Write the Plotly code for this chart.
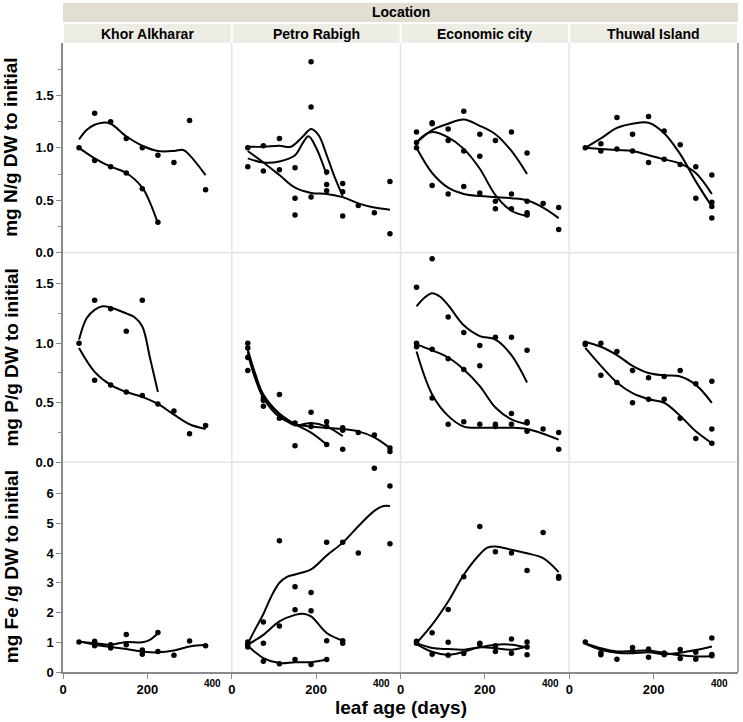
import plotly.graph_objects as go
from plotly.subplots import make_subplots

LOCATIONS = ["Khor Alkharar", "Petro Rabigh", "Economic city", "Thuwal Island"]
Y_TITLES = ["mg N/g DW to initial", "mg P/g DW to initial", "mg Fe /g DW to initial"]
AGES = [38, 75, 113, 150, 188, 225, 263, 300, 338, 375]

# measured values, one list of replicates per leaf age (AGES)
KA_N = [[1.00], [1.33, 0.88], [1.25, 0.82], [1.09, 0.76], [1.00, 0.61], [0.93, 0.29], [0.86], [1.26], [0.60]]
PR_N = [[1.00, 0.82], [1.02, 0.78], [1.09, 0.79], [0.81, 0.52, 0.36], [1.82, 1.39, 0.53],
        [0.77, 0.65, 0.59], [0.66, 0.58, 0.35], [0.45], [0.38], [0.68, 0.18]]
EC_N = [[1.15, 1.05, 1.00], [1.24, 1.23, 0.64], [1.18, 1.07, 0.56], [1.35, 0.97, 0.63], [1.13, 0.92, 0.57],
        [1.07, 0.49, 0.42], [1.15, 0.56, 0.42], [0.95, 0.49, 0.38, 0.36], [0.47], [0.43, 0.22]]
TI_N = [[1.00], [1.04, 0.97], [1.29, 0.99], [1.13, 0.97], [1.30, 0.86], [1.16, 0.89], [1.03, 0.84],
        [0.82, 0.52], [0.74, 0.48, 0.44, 0.33]]

KA_P = [[1.00], [1.36, 0.69], [1.29, 0.65], [1.10, 0.59], [1.36, 0.56], [0.49], [0.43], [0.24], [0.31]]
PR_P = [[1.00, 0.96, 0.88, 0.77], [0.54, 0.52, 0.47], [0.57, 0.37], [0.33, 0.14], [0.42, 0.30],
        [0.34, 0.30, 0.15], [0.29, 0.27, 0.11], [0.25], [0.23], [0.12, 0.09]]
EC_P = [[1.47, 1.00, 0.97], [1.71, 0.95, 0.54], [1.22, 0.87, 0.32], [1.09, 0.78, 0.34], [0.98, 0.81, 0.32],
        [1.05, 0.32, 0.30], [1.05, 0.41, 0.32], [0.94, 0.34, 0.33, 0.26], [0.28], [0.25, 0.11]]
TI_P = [[1.00, 0.99], [1.00, 0.73], [0.93, 0.67], [0.77, 0.50], [0.71, 0.53], [0.72, 0.53], [0.77, 0.37],
        [0.66, 0.20], [0.68, 0.28, 0.16]]

KA_FE = [[1.01], [1.03, 0.88], [0.92, 0.81], [1.26, 0.92], [0.74, 0.60], [1.33, 0.69], [0.56], [1.04], [0.88]]
PR_FE = [[1.01, 0.92, 0.84], [1.68, 0.97, 0.36], [4.41, 1.55, 0.28], [2.87, 2.09, 0.42], [2.67, 2.06, 0.25],
         [4.36, 1.05, 0.42], [4.36, 1.05, 0.97], [4.00], [6.85], [6.25, 4.31]]
EC_FE = [[1.03, 0.97], [1.32, 0.60], [2.10, 1.00, 0.56], [3.20, 0.62], [4.89, 0.97, 0.94], [4.04, 0.88, 0.69],
         [4.00, 1.11, 0.63], [3.41, 1.01, 0.84, 0.58], [4.69], [3.21, 3.15]]
TI_FE = [[1.01], [0.58, 0.65], [0.43], [0.82, 0.69], [0.77, 0.50], [0.64, 0.58], [0.76, 0.45], [0.66, 0.43],
         [1.14, 0.59, 0.55]]

# smoothing curves as (day, value)
KA_N_FIT = [
    [(38, 1.08), (56, 1.17), (75, 1.22), (94, 1.24), (113, 1.23), (150, 1.11), (188, 1.02), (225, 0.97),
     (263, 0.97), (285, 0.98), (300, 0.93), (338, 0.74)],
    [(38, 1.00), (75, 0.90), (113, 0.82), (150, 0.76), (188, 0.62), (206, 0.48), (225, 0.28)],
]
PR_N_FIT = [
    [(38, 0.90), (75, 0.86), (113, 0.87), (150, 0.93), (169, 1.05), (182, 1.11), (200, 1.00), (225, 0.74)],
    [(38, 1.01), (75, 1.01), (113, 1.02), (140, 1.01), (169, 1.11), (188, 1.18), (206, 1.12), (225, 0.93),
     (244, 0.72), (263, 0.54)],
    [(38, 0.97), (75, 0.86), (113, 0.74), (150, 0.62), (188, 0.57), (225, 0.56), (263, 0.53), (300, 0.47),
     (338, 0.43), (375, 0.41)],
]
EC_N_FIT = [
    [(38, 1.05), (75, 1.17), (113, 1.23), (150, 1.27), (188, 1.21), (225, 1.13), (263, 0.97), (300, 0.75)],
    [(38, 1.05), (56, 1.12), (75, 1.15), (113, 1.10), (150, 0.99), (188, 0.80), (225, 0.55), (263, 0.40),
     (300, 0.35)],
    [(38, 1.00), (75, 0.76), (113, 0.62), (150, 0.56), (188, 0.54), (225, 0.53), (263, 0.52), (300, 0.50),
     (338, 0.43), (375, 0.33)],
]
TI_N_FIT = [
    [(38, 1.00), (75, 1.09), (113, 1.19), (150, 1.23), (188, 1.24), (225, 1.14), (263, 0.94), (300, 0.68),
     (338, 0.44)],
    [(38, 1.00), (75, 0.99), (113, 0.98), (150, 0.97), (188, 0.93), (225, 0.89), (263, 0.85), (300, 0.76),
     (338, 0.56)],
]

KA_P_FIT = [
    [(38, 1.03), (56, 1.21), (75, 1.28), (94, 1.31), (113, 1.30), (150, 1.25), (169, 1.22), (188, 1.14),
     (206, 0.88), (225, 0.59)],
    [(38, 0.96), (75, 0.76), (113, 0.65), (150, 0.59), (188, 0.55), (225, 0.49), (263, 0.40), (300, 0.32),
     (338, 0.28)],
]
PR_P_FIT = [
    [(38, 0.95), (56, 0.74), (75, 0.57), (113, 0.41), (150, 0.32), (188, 0.25), (225, 0.15)],
    [(38, 0.93), (56, 0.72), (75, 0.56), (113, 0.40), (150, 0.31), (169, 0.32), (188, 0.33), (225, 0.30),
     (263, 0.22)],
    [(38, 0.91), (56, 0.70), (75, 0.54), (113, 0.38), (150, 0.32), (188, 0.30), (225, 0.29), (263, 0.28),
     (300, 0.26), (338, 0.21), (375, 0.12)],
]
EC_P_FIT = [
    [(38, 1.31), (56, 1.38), (75, 1.42), (94, 1.39), (113, 1.32), (150, 1.15), (188, 1.06), (225, 1.03),
     (263, 0.90), (300, 0.67)],
    [(38, 0.99), (75, 0.94), (113, 0.88), (150, 0.78), (188, 0.64), (225, 0.46), (263, 0.36), (300, 0.32)],
    [(38, 0.93), (75, 0.57), (113, 0.39), (150, 0.30), (188, 0.29), (225, 0.29), (263, 0.29), (300, 0.28),
     (338, 0.24), (375, 0.19)],
]
TI_P_FIT = [
    [(38, 1.01), (75, 0.97), (113, 0.90), (150, 0.81), (188, 0.75), (225, 0.73), (263, 0.72), (300, 0.65),
     (338, 0.50)],
    [(38, 0.96), (75, 0.81), (113, 0.67), (150, 0.58), (188, 0.53), (225, 0.50), (263, 0.39), (300, 0.26),
     (338, 0.16)],
]

KA_FE_FIT = [
    [(38, 1.02), (75, 0.97), (113, 0.92), (150, 1.01), (188, 1.00), (206, 1.08), (225, 1.30)],
    [(38, 1.03), (75, 0.92), (113, 0.84), (150, 0.77), (188, 0.69), (225, 0.66), (263, 0.72), (300, 0.86),
     (338, 0.92)],
]
PR_FE_FIT = [
    [(38, 0.95), (56, 1.45), (75, 1.95), (94, 2.55), (113, 3.00), (131, 3.20), (150, 3.28), (188, 3.45),
     (225, 3.92), (263, 4.35), (300, 4.90), (338, 5.42), (360, 5.58), (375, 5.58)],
    [(38, 0.92), (75, 1.25), (113, 1.70), (150, 1.92), (169, 1.96), (188, 1.87), (225, 1.31), (263, 1.05)],
    [(38, 0.88), (75, 0.47), (113, 0.30), (150, 0.33), (188, 0.33), (225, 0.42)],
]
EC_FE_FIT = [
    [(38, 0.97), (75, 1.59), (113, 2.37), (150, 3.27), (188, 3.96), (206, 4.18), (225, 4.22), (263, 4.11),
     (300, 3.99), (338, 3.83), (375, 3.36)],
    [(38, 0.97), (75, 0.81), (113, 0.77), (150, 0.75), (188, 0.83), (225, 0.92), (263, 0.92), (300, 0.83)],
    [(38, 0.94), (75, 0.68), (113, 0.58), (150, 0.68), (188, 0.83), (225, 0.80), (263, 0.75), (300, 0.86)],
]
TI_FE_FIT = [
    [(38, 0.95), (75, 0.75), (113, 0.65), (150, 0.63), (188, 0.66), (225, 0.60), (263, 0.65), (300, 0.74),
     (338, 0.86)],
    [(38, 0.97), (75, 0.80), (113, 0.69), (150, 0.71), (188, 0.72), (225, 0.64), (263, 0.56), (300, 0.52),
     (338, 0.53)],
]

PANELS = [
    [(KA_N, KA_N_FIT), (PR_N, PR_N_FIT), (EC_N, EC_N_FIT), (TI_N, TI_N_FIT)],
    [(KA_P, KA_P_FIT), (PR_P, PR_P_FIT), (EC_P, EC_P_FIT), (TI_P, TI_P_FIT)],
    [(KA_FE, KA_FE_FIT), (PR_FE, PR_FE_FIT), (EC_FE, EC_FE_FIT), (TI_FE, TI_FE_FIT)],
]

Y_RANGES = [[0, 2.0], [0, 1.76], [0, 7.05]]
Y_TICKS = [[0, 0.5, 1.0, 1.5], [0, 0.5, 1.0, 1.5], [0, 1, 2, 3, 4, 5, 6]]
Y_MINOR = [[0.25, 0.75, 1.25, 1.75], [0.25, 0.75, 1.25], []]
Y_FORMAT = [".1f", ".1f", "d"]

FONT = "Liberation Sans, Arial, sans-serif"
AXIS_GREY = "#8a8a8a"
SEP_GREY = "#e4e4e4"

fig = make_subplots(rows=3, cols=4, horizontal_spacing=0, vertical_spacing=0)

for r, row in enumerate(PANELS):
    for c, (pts, fits) in enumerate(row):
        xs, ys = [], []
        for age, vals in zip(AGES, pts):
            for v in vals:
                xs.append(age)
                ys.append(v)
        fig.add_trace(go.Scatter(x=xs, y=ys, mode="markers",
                                 marker=dict(color="black", size=5.5)),
                      row=r + 1, col=c + 1)
        for fit in fits:
            fig.add_trace(go.Scatter(x=[p[0] for p in fit], y=[p[1] for p in fit], mode="lines",
                                     line=dict(color="black", width=2, shape="spline", smoothing=1.0)),
                          row=r + 1, col=c + 1)

        bottom = r == 2
        left = c == 0
        fig.update_xaxes(row=r + 1, col=c + 1, range=[0, 400], showgrid=False, zeroline=False,
                         automargin=False,
                         showline=bottom, linecolor=AXIS_GREY, linewidth=1.5,
                         tickvals=[0, 200] if bottom else [], ticks="outside" if bottom else "",
                         ticklen=5, tickcolor=AXIS_GREY, showticklabels=bottom,
                         tickfont=dict(family=FONT, size=13, color="black", weight="bold"))
        fig.update_yaxes(row=r + 1, col=c + 1, range=Y_RANGES[r], showgrid=False, zeroline=False,
                         automargin=False,
                         showline=left, linecolor=AXIS_GREY, linewidth=1.5,
                         tickvals=Y_TICKS[r], tickformat=Y_FORMAT[r],
                         ticks="outside" if left else "", ticklen=5, tickcolor=AXIS_GREY,
                         showticklabels=left,
                         minor=dict(tickvals=Y_MINOR[r], ticks="outside" if left else "",
                                    ticklen=3, tickcolor=AXIS_GREY),
                         tickfont=dict(family=FONT, size=13, color="black", weight="bold"))

shapes = []
# header strips
shapes.append(dict(type="rect", xref="paper", yref="paper", x0=0, x1=1, y0=1.0334, y1=1.0636,
                   fillcolor="#e2dfd2", line=dict(width=0), layer="below"))
for c in range(4):
    shapes.append(dict(type="rect", xref="paper", yref="paper", x0=c * 0.25 + 0.0015, x1=(c + 1) * 0.25 - 0.0015,
                       y0=1.0, y1=1.0302, fillcolor="#edece5", line=dict(width=0), layer="below"))
# panel separators
for c in (0.25, 0.5, 0.75):
    shapes.append(dict(type="line", xref="paper", yref="paper", x0=c, x1=c, y0=0, y1=1,
                       line=dict(color=SEP_GREY, width=1.5), layer="below"))
for r in (1 / 3, 2 / 3):
    shapes.append(dict(type="line", xref="paper", yref="paper", x0=0, x1=1, y0=r, y1=r,
                       line=dict(color=SEP_GREY, width=1.5), layer="below"))
shapes.append(dict(type="line", xref="paper", yref="paper", x0=1, x1=1, y0=0, y1=1,
                   line=dict(color=AXIS_GREY, width=1.5)))

annotations = [dict(text="Location", xref="paper", yref="paper", x=0.5, y=1.0485, showarrow=False,
                    xanchor="center", yanchor="middle",
                    font=dict(family=FONT, size=14, color="black", weight="bold"))]
for c, name in enumerate(LOCATIONS):
    annotations.append(dict(text=name, xref="paper", yref="paper", x=c * 0.25 + 0.125, y=1.0151,
                            xanchor="center", yanchor="middle", showarrow=False,
                            font=dict(family=FONT, size=14, color="black", weight="bold")))
    annotations.append(dict(text="400", xref="paper", yref="paper", x=(c + 1) * 0.25 - 0.0125, y=-0.0175,
                            xanchor="right", yanchor="middle", showarrow=False,
                            font=dict(family=FONT, size=10, color="black", weight="bold")))
for r, title in enumerate(Y_TITLES):
    annotations.append(dict(text=title, xref="paper", yref="paper", x=-0.077, y=1 - (r + 0.5) / 3,
                            textangle=-90, xanchor="center", yanchor="middle", showarrow=False,
                            font=dict(family=FONT, size=19, color="black", weight="bold")))
annotations.append(dict(text="leaf age (days)", xref="paper", yref="paper", x=0.5, y=-0.057,
                        xanchor="center", yanchor="middle", showarrow=False,
                        font=dict(family=FONT, size=19, color="black", weight="bold")))

fig.update_layout(width=743, height=722, margin=dict(l=63, r=5, t=43, b=50),
                  paper_bgcolor="white", plot_bgcolor="white", showlegend=False,
                  shapes=shapes, annotations=annotations)

# the page body has a default 8px margin; drop it so the figure sits at the window corner
fig.write_html("out.html", config={"displayModeBar": False},
               post_script="document.body.style.margin='0px';")
